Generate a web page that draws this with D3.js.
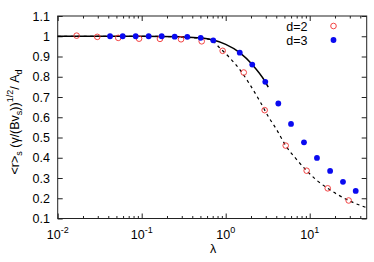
<!DOCTYPE html>
<html>
<head>
<meta charset="utf-8">
<script src="https://cdn.jsdelivr.net/npm/d3@7/dist/d3.min.js"></script>
<style>
  body { margin: 0; background: #fff; }
  text { font-family: "Liberation Sans", Arial, sans-serif; fill: #000; }
</style>
</head>
<body>
<svg id="chart" width="374" height="262"></svg>
<script>
// d=2 points (open red circles)
var lambda2 = [0.0168, 0.0296, 0.0526, 0.093, 0.165, 0.294, 0.518, 0.92, 1.64, 2.91, 5.18, 9.2, 16.4, 29.1];
var ratio2  = [1.003, 0.997, 0.992, 0.988, 0.987, 0.985, 0.975, 0.928, 0.821, 0.635, 0.46, 0.336, 0.249, 0.189];

// d=3 points (filled blue circles)
var lambda3 = [0.042, 0.0594, 0.0848, 0.121, 0.173, 0.247, 0.349, 0.504, 0.711, 1.47, 2.07, 2.96, 4.23, 5.99, 8.55, 12.2, 17.5, 24.9, 35.3];
var ratio3  = [1.0, 1.0, 1.0, 1.0, 1.0, 0.998, 0.997, 0.992, 0.98, 0.919, 0.86, 0.775, 0.668, 0.567, 0.476, 0.399, 0.335, 0.281, 0.236];

// theory curves
var curve2X = [0.01, 0.1, 0.2, 0.4, 0.65, 0.855, 1.125, 1.48, 1.95, 2.56, 3.21, 4.05, 5.18, 7.0, 9.2, 12.1, 16.4, 29.1, 47.7];
var curve2Y = [1.0, 1.0, 0.998, 0.993, 0.985, 0.941, 0.892, 0.834, 0.76, 0.678, 0.604, 0.538, 0.46, 0.391, 0.336, 0.289, 0.249, 0.189, 0.153];
var curve3X = [0.01, 0.1, 0.3, 0.5, 0.71, 1.0, 1.47, 2.07, 2.96, 3.21];
var curve3Y = [1.0, 1.0, 0.997, 0.992, 0.981, 0.96, 0.919, 0.86, 0.775, 0.749];

var yTicks = [0.1, 0.2, 0.3, 0.4, 0.5, 0.6, 0.7, 0.8, 0.9, 1.0, 1.1];
var xMajor = [0.01, 0.1, 1, 10];
var xMajorExp = ["-2", "-1", "0", "1"];
var legendLabels = ["d=2", "d=3"];

var svg = d3.select("#chart");
var plotL = 57.7, plotR = 366.7, plotT = 16, plotB = 218.5;

var x = d3.scaleLog().domain([0.01, 47.7]).range([plotL, plotR]);
var y = d3.scaleLinear().domain([0.1, 1.1]).range([plotB, plotT]);

// minor ticks for log axis
var xMinor = [];
xMajor.forEach(function(m) {
  for (var k = 2; k <= 9; k++) {
    if (m * k <= 47.7) xMinor.push(m * k);
  }
});

var axisColor = "#222";

function styleAxis(g) {
  g.select(".domain").remove();
  g.selectAll("line").attr("stroke", axisColor);
}

// bottom / top ticks
svg.append("g").attr("transform", "translate(0," + plotB + ")")
  .call(d3.axisBottom(x).tickValues(xMajor).tickSize(-5).tickFormat(""))
  .call(styleAxis);
svg.append("g").attr("transform", "translate(0," + plotB + ")")
  .call(d3.axisBottom(x).tickValues(xMinor).tickSize(-2.5).tickFormat(""))
  .call(styleAxis);
svg.append("g").attr("transform", "translate(0," + plotT + ")")
  .call(d3.axisTop(x).tickValues(xMajor).tickSize(-5).tickFormat(""))
  .call(styleAxis);
svg.append("g").attr("transform", "translate(0," + plotT + ")")
  .call(d3.axisTop(x).tickValues(xMinor).tickSize(-2.5).tickFormat(""))
  .call(styleAxis);

// left / right ticks
svg.append("g").attr("transform", "translate(" + plotL + ",0)")
  .call(d3.axisLeft(y).tickValues(yTicks).tickSize(-5).tickFormat(""))
  .call(styleAxis);
svg.append("g").attr("transform", "translate(" + plotR + ",0)")
  .call(d3.axisRight(y).tickValues(yTicks).tickSize(-5).tickFormat(""))
  .call(styleAxis);

// frame
svg.append("rect")
  .attr("x", plotL).attr("y", plotT)
  .attr("width", plotR - plotL).attr("height", plotB - plotT)
  .attr("fill", "none").attr("stroke", axisColor).attr("stroke-width", 1);

// y tick labels
svg.append("g").selectAll("text")
  .data(yTicks)
  .enter().append("text")
  .attr("x", 50)
  .attr("y", function(d) { return y(d) + 4.5; })
  .attr("text-anchor", "end")
  .style("font-size", "12.5px")
  .text(function(d) { return d === 1 ? "1" : d3.format(".1f")(d); });

// x tick labels 10^n
var xl = svg.append("g").selectAll("text")
  .data(xMajor)
  .enter().append("text")
  .attr("x", function(d) { return x(d); })
  .attr("y", 238.5)
  .attr("text-anchor", "middle")
  .style("font-size", "12.5px");
xl.append("tspan").text("10");
xl.append("tspan")
  .attr("dy", -6)
  .style("font-size", "9px")
  .text(function(d, i) { return xMajorExp[i]; });

// x axis title
svg.append("text")
  .attr("x", 213).attr("y", 253)
  .attr("text-anchor", "middle")
  .style("font-size", "12.5px")
  .text("λ");

// y axis title
var yt = svg.append("text")
  .attr("transform", "translate(19,122) rotate(-90)")
  .attr("text-anchor", "middle")
  .style("font-size", "12.5px");
yt.append("tspan").text("<r>");
yt.append("tspan").attr("dy", 3).style("font-size", "9px").text("s");
yt.append("tspan").attr("dy", -3).text(" (γ/(Bv");
yt.append("tspan").attr("dy", 3).style("font-size", "9px").text("s");
yt.append("tspan").attr("dy", -3).text("))");
yt.append("tspan").attr("dy", -6).style("font-size", "9px").text("1/2");
yt.append("tspan").attr("dy", 6).text("/ A");
yt.append("tspan").attr("dy", 3).style("font-size", "9px").text("d");

// curves
var line = d3.line()
  .x(function(d) { return x(d[0]); })
  .y(function(d) { return y(d[1]); })
  .curve(d3.curveMonotoneX);

svg.append("path")
  .datum(d3.zip(curve2X, curve2Y))
  .attr("d", line)
  .attr("fill", "none")
  .attr("stroke", "#000")
  .attr("stroke-width", 1.2)
  .attr("stroke-dasharray", "3,3.5");

svg.append("path")
  .datum(d3.zip(curve3X, curve3Y))
  .attr("d", line)
  .attr("fill", "none")
  .attr("stroke", "#000")
  .attr("stroke-width", 1.5);

// d=2 points
svg.append("g").selectAll("circle")
  .data(d3.zip(lambda2, ratio2))
  .enter().append("circle")
  .attr("cx", function(d) { return x(d[0]); })
  .attr("cy", function(d) { return y(d[1]); })
  .attr("r", 2.8)
  .attr("fill", "none")
  .attr("stroke", "#f03030")
  .attr("stroke-width", 0.9);

// d=3 points
svg.append("g").selectAll("circle")
  .data(d3.zip(lambda3, ratio3))
  .enter().append("circle")
  .attr("cx", function(d) { return x(d[0]); })
  .attr("cy", function(d) { return y(d[1]); })
  .attr("r", 2.9)
  .attr("fill", "#0a0af0");

// legend
var legend = svg.append("g");
legendLabels.forEach(function(lab, i) {
  var ly = 26 + i * 14;
  legend.append("text")
    .attr("x", 307.5).attr("y", ly + 4.5)
    .attr("text-anchor", "end")
    .style("font-size", "12.5px")
    .text(lab);
  if (i === 0) {
    legend.append("circle").attr("cx", 333.5).attr("cy", ly).attr("r", 2.8)
      .attr("fill", "none").attr("stroke", "#f03030").attr("stroke-width", 0.9);
  } else {
    legend.append("circle").attr("cx", 333.5).attr("cy", ly).attr("r", 2.9)
      .attr("fill", "#0a0af0");
  }
});
</script>
</body>
</html>
